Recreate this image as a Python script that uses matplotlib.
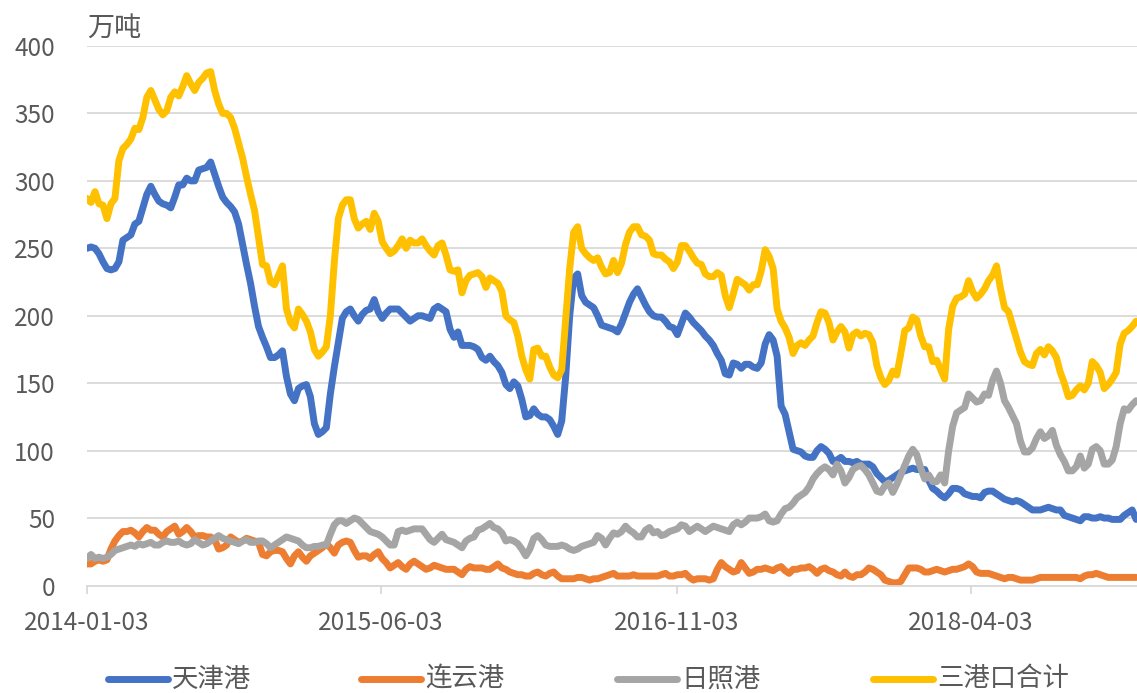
import numpy as np
import pandas as pd
import matplotlib
matplotlib.use("Agg")
import matplotlib.pyplot as plt
from matplotlib.lines import Line2D

plt.rcParams['font.family'] = ['Noto Sans CJK SC', 'DejaVu Sans']

# weekly port inventory, 万吨
dates = pd.date_range('2014-01-03', periods=264, freq='7D')

tianjin = [
    250, 251, 250, 246, 240, 235, 234, 235, 240, 256,
    258, 260, 268, 270, 280, 290, 296, 290, 285, 283,
    282, 280, 288, 297, 297, 302, 300, 300, 308, 309,
    310, 314, 305, 296, 288, 284, 281, 277, 268, 253,
    238, 224, 207, 192, 184, 177, 169, 169, 171, 174,
    155, 142, 137, 146, 148, 149, 140, 120, 112, 114,
    117, 142, 162, 180, 198, 203, 205, 200, 196, 201,
    204, 205, 212, 203, 198, 202, 205, 205, 205, 202,
    199, 196, 198, 200, 200, 199, 198, 205, 207, 205,
    203, 190, 184, 188, 178, 178, 178, 177, 175, 169,
    167, 170, 166, 163, 158, 149, 146, 151, 148, 138,
    125, 126, 131, 127, 125, 125, 123, 118, 112, 122,
    155, 200, 228, 231, 215, 210, 208, 206, 200, 193,
    192, 191, 190, 188, 194, 202, 210, 216, 220, 214,
    208, 203, 200, 199, 199, 196, 192, 191, 186, 194,
    202, 199, 195, 192, 189, 185, 182, 178, 172, 167,
    157, 156, 165, 164, 161, 164, 164, 162, 161, 165,
    179, 186, 182, 170, 133, 127, 114, 101, 100, 99,
    96, 95, 95, 100, 103, 101, 98, 92, 93, 95,
    92, 92, 91, 92, 90, 90, 90, 88, 83, 80,
    77, 78, 80, 82, 84, 85, 86, 87, 86, 86,
    86, 78, 72, 70, 67, 65, 68, 72, 72, 71,
    68, 67, 66, 66, 65, 69, 70, 70, 68, 66,
    64, 63, 62, 63, 62, 60, 58, 56, 56, 56,
    57, 58, 57, 56, 56, 52, 51, 50, 49, 48,
    51, 51, 50, 50, 51, 50, 50, 49, 49, 49,
    52, 54, 56, 49,
]

lianyungang = [
    16, 16, 18, 19, 18, 19, 27, 33, 37, 40,
    40, 41, 39, 36, 40, 43, 41, 41, 38, 36,
    40, 42, 44, 38, 40, 43, 40, 36, 37, 37,
    36, 36, 34, 27, 28, 30, 36, 34, 32, 33,
    35, 34, 33, 32, 23, 22, 25, 26, 26, 25,
    20, 16, 22, 25, 21, 18, 22, 24, 26, 28,
    31, 28, 24, 30, 32, 33, 32, 26, 21, 22,
    22, 20, 23, 25, 20, 17, 13, 15, 17, 14,
    12, 16, 18, 16, 14, 12, 13, 15, 14, 13,
    12, 12, 12, 10, 8, 12, 14, 13, 13, 13,
    12, 12, 14, 16, 13, 12, 10, 9, 8, 8,
    7, 7, 9, 10, 8, 7, 9, 10, 7, 5,
    5, 5, 5, 6, 6, 5, 4, 5, 5, 6,
    7, 8, 9, 7, 7, 7, 7, 8, 7, 7,
    7, 7, 7, 7, 8, 9, 7, 7, 8, 8,
    9, 6, 4, 5, 5, 5, 4, 5, 12, 17,
    14, 12, 10, 11, 17, 13, 9, 10, 12, 12,
    13, 12, 11, 13, 14, 11, 9, 12, 12, 13,
    13, 14, 12, 9, 12, 13, 11, 10, 8, 7,
    10, 7, 6, 8, 8, 10, 13, 12, 10, 8,
    4, 3, 2, 2, 3, 8, 13, 13, 13, 12,
    10, 10, 11, 12, 11, 10, 11, 12, 12, 13,
    14, 16, 14, 10, 9, 9, 9, 8, 7, 6,
    5, 6, 6, 5, 4, 4, 4, 4, 5, 6,
    6, 6, 6, 6, 6, 6, 6, 6, 6, 5,
    7, 8, 8, 9, 8, 7, 6, 6, 6, 6,
    6, 6, 6, 6,
]

rizhao = [
    20, 23, 20, 21, 20, 21, 23, 26, 27, 28,
    29, 30, 29, 31, 30, 31, 32, 30, 30, 32,
    33, 32, 32, 33, 31, 30, 31, 34, 32, 30,
    31, 33, 35, 37, 35, 34, 33, 32, 31, 33,
    34, 32, 32, 33, 33, 31, 28, 30, 32, 34,
    36, 35, 34, 33, 30, 28, 28, 29, 29, 30,
    30, 38, 45, 48, 48, 46, 48, 50, 49, 46,
    43, 40, 39, 38, 36, 33, 30, 30, 40, 41,
    40, 41, 42, 42, 42, 38, 34, 32, 35, 38,
    34, 33, 32, 30, 28, 33, 35, 36, 41, 42,
    44, 46, 43, 42, 39, 33, 34, 33, 31, 27,
    22, 27, 35, 37, 34, 30, 29, 29, 29, 30,
    29, 27, 26, 27, 29, 30, 31, 32, 37, 35,
    30, 35, 39, 38, 40, 44, 41, 39, 36, 36,
    41, 43, 39, 40, 37, 38, 40, 41, 42, 45,
    44, 40, 42, 44, 42, 40, 42, 44, 43, 42,
    41, 40, 45, 47, 45, 47, 50, 50, 50, 51,
    53, 48, 47, 48, 53, 57, 58, 61, 65, 67,
    69, 73, 79, 83, 86, 88, 86, 82, 90, 85,
    76, 80, 86, 88, 89, 86, 82, 76, 70, 69,
    74, 76, 69, 75, 82, 89, 96, 101, 97, 87,
    79, 82, 77, 77, 82, 76, 100, 118, 128, 130,
    132, 142, 139, 136, 137, 142, 141, 152, 159, 150,
    137, 132, 126, 120, 107, 99, 99, 102, 109, 114,
    109, 111, 115, 104, 97, 92, 85, 85, 88, 96,
    87, 90, 101, 103, 100, 90, 90, 93, 103, 120,
    131, 130, 134, 137,
]

total = [
    287, 284, 292, 283, 282, 272, 283, 287, 315, 324,
    327, 331, 339, 338, 347, 362, 367, 360, 353, 349,
    352, 362, 366, 363, 370, 378, 372, 367, 373, 376,
    380, 381, 367, 357, 350, 350, 347, 339, 328, 317,
    303, 290, 278, 258, 238, 237, 225, 223, 230, 237,
    205, 195, 191, 205, 201, 196, 188, 175, 170, 173,
    177, 200, 240, 272, 282, 286, 286, 272, 265, 268,
    270, 264, 276, 270, 255, 250, 246, 248, 252, 257,
    250, 256, 254, 254, 257, 252, 248, 245, 252, 254,
    245, 234, 233, 234, 217, 226, 230, 231, 232, 229,
    221, 228, 226, 224, 218, 200, 197, 195, 185, 170,
    160, 153, 175, 176, 170, 170, 162, 156, 154, 160,
    197, 235, 262, 266, 250, 246, 243, 241, 243, 236,
    231, 232, 241, 232, 239, 253, 262, 266, 266, 260,
    259, 256, 246, 245, 245, 242, 240, 235, 240, 252,
    252, 248, 243, 239, 238, 231, 229, 229, 232, 230,
    215, 206, 216, 227, 225, 223, 219, 223, 223, 233,
    249, 244, 235, 205, 196, 191, 184, 172, 178, 180,
    178, 182, 185, 195, 203, 202, 195, 182, 188, 192,
    188, 176, 186, 188, 185, 187, 186, 180, 163, 154,
    149, 152, 159, 156, 172, 189, 191, 199, 197, 185,
    177, 177, 166, 167, 160, 153, 190, 207, 213, 214,
    216, 226, 218, 213, 216, 220, 226, 230, 237, 220,
    206, 203, 193, 183, 173, 166, 164, 163, 172, 175,
    171, 177, 174, 169, 158, 150, 140, 141, 145, 148,
    145, 150, 166, 163, 158, 146, 149, 153, 158, 179,
    187, 189, 192, 196,
]

series_names = ['天津港', '连云港', '日照港', '三港口合计']
series_colors = ['#4472C4', '#ED7D31', '#A5A5A5', '#FFC000']
tick_dates = ['2014-01-03', '2015-06-03', '2016-11-03', '2018-04-03']

W, H = 1137, 693
fig = plt.figure(figsize=(W / 100, H / 100), dpi=100)
ax = fig.add_axes([87 / W, 1 - 585.5 / H, (W - 87) / W, (585.5 - 46) / H])

grid_c = '#D9D9D9'
text_c = '#595959'
line_w = 5.0

for vals, name, col in zip([tianjin, lianyungang, rizhao, total], series_names, series_colors):
    ax.plot(dates, vals, color=col, lw=line_w, solid_joinstyle='round',
            solid_capstyle='round', label=name)

ax.set_ylim(0, 400)
ax.set_yticks(np.arange(0, 401, 50))
start = pd.Timestamp('2014-01-03')
ax.set_xlim(start, start + pd.Timedelta(days=1842.5))
ax.set_xticks(pd.to_datetime(tick_dates))
ax.set_xticklabels(tick_dates)

for s in ['top', 'right', 'left']:
    ax.spines[s].set_visible(False)
ax.spines['bottom'].set_color(grid_c)
ax.spines['bottom'].set_linewidth(1.3)
ax.yaxis.grid(True, color=grid_c, lw=1.3)
ax.set_axisbelow(True)

ax.tick_params(axis='y', length=0, pad=23, labelsize=17.5, labelcolor=text_c)
ax.tick_params(axis='x', length=6, width=1.3, color=grid_c, pad=12,
               labelsize=17.5, labelcolor=text_c)

fig.text(87 / W, 1 - 28 / H, '万吨', fontsize=19.5, color=text_c,
         ha='left', va='center')

# legend row under the axis
legend_x = [108, 361, 617, 873]
ly = 1 - 679 / H
for x0, name, col in zip(legend_x, series_names, series_colors):
    fig.add_artist(Line2D([x0 / W, (x0 + 60) / W], [ly, ly], color=col, lw=line_w,
                          solid_capstyle='round', transform=fig.transFigure))
    fig.text((x0 + 64) / W, ly, name, fontsize=19, color=text_c,
             ha='left', va='center')

fig.savefig('out.png', dpi=100)
